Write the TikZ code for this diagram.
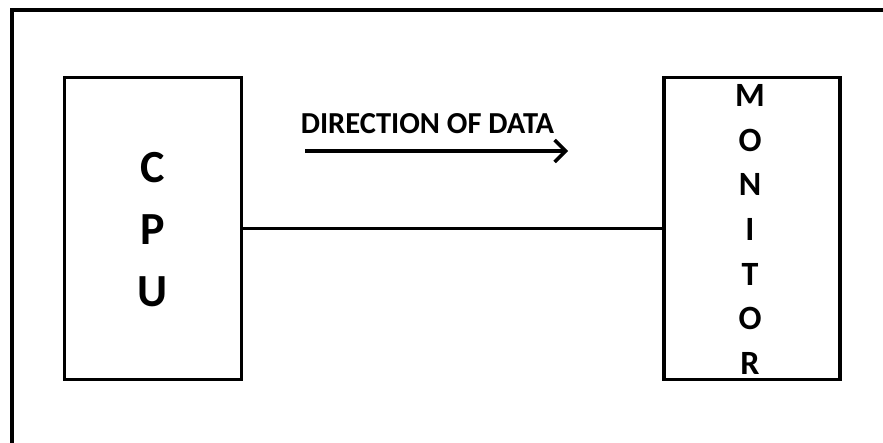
\documentclass[tikz,border=0pt]{standalone}
\usepackage{fontspec}
\setmainfont{Carlito}
\usetikzlibrary{arrows.meta}
\begin{document}
\begin{tikzpicture}[x=1pt,y=-1pt,
  frame/.style={line width=4pt, line cap=rect},
  unitbox/.style={draw, line width=3.2pt, inner sep=0pt, minimum width=#1},
  letters/.style={font=\bfseries\fontsize{46}{46}\selectfont, inner sep=0pt, align=center},
  wire/.style={line width=3.8pt},
  flow/.style={line width=3.8pt, -{Straight Barb[length=11pt,width=22pt,line width=3.5pt]}},
  caption/.style={font=\bfseries\fontsize{30.5}{30.5}\selectfont, inner sep=0pt}]
\fill[white] (0,0) rectangle (883,442);
\useasboundingbox (0,0) rectangle (883,442);
\begin{scope}
\clip (0,0) rectangle (883,442);
\draw[frame] (12,450) -- (12,10) -- (895,10);
\end{scope}
\node[unitbox=177pt, minimum height=302pt] (cpu) at (153,228.5) {};
\node[unitbox=176pt, minimum height=302pt] (mon) at (752,228.5) {};
\node[letters] (cputxt) at (153,229.5) {C\\[0.35em]P\\[0.35em]U};
\node[font=\bfseries\fontsize{34}{44.6}\selectfont, inner sep=0pt, align=center] (montxt) at (750,229.5) {M\\O\\N\\I\\T\\O\\R};
\draw[wire] (cpu.east) -- (mon.west);
\node[caption] (dir) at (427.5,124) {DIRECTION OF DATA};
\coordinate (fs) at (305,151);
\coordinate (fe) at (568,151);
\draw[flow] (fs) -- (fe);
\end{tikzpicture}
\end{document}
